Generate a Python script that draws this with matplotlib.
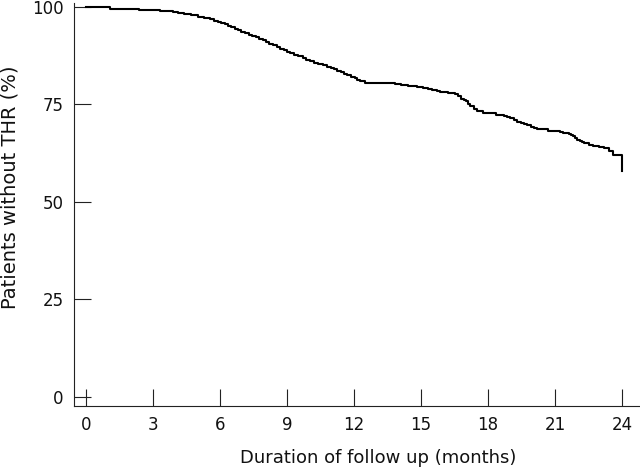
import matplotlib
matplotlib.use("Agg")
import matplotlib.pyplot as plt

# Kaplan-Meier step curve (months, % without THR)
months = [0.0, 1.07, 2.35, 3.3, 3.9, 4.1, 4.4, 4.7, 5.0, 5.3, 5.55, 5.75, 5.9,
          6.05, 6.2, 6.35, 6.5, 6.65, 6.8, 6.95, 7.1, 7.3, 7.45, 7.6, 7.75,
          7.9, 8.05, 8.2, 8.35, 8.54, 8.7, 8.85, 9.0, 9.15, 9.3, 9.5, 9.7,
          9.85, 10.03, 10.2, 10.4, 10.6, 10.78, 10.95, 11.1, 11.25, 11.4,
          11.55, 11.7, 11.85, 12.05, 12.15, 12.27, 12.5, 12.87, 13.84, 14.1,
          14.43, 14.8, 15.1, 15.3, 15.5, 15.7, 15.85, 16.2, 16.5, 16.65, 16.8,
          16.9, 17.0, 17.1, 17.2, 17.35, 17.5, 17.75, 18.0, 18.35, 18.7,
          18.85, 19.0, 19.15, 19.3, 19.45, 19.6, 19.75, 19.9, 20.05, 20.2,
          20.7, 21.2, 21.35, 21.5, 21.6, 21.7, 21.8, 21.9, 22.0, 22.1, 22.2,
          22.3, 22.5, 22.7, 22.95, 23.2, 23.4, 23.6, 24.0]
survival = [100.0, 99.5, 99.2, 98.9, 98.7, 98.4, 98.1, 97.9, 97.5, 97.2, 96.8,
            96.5, 96.2, 95.8, 95.5, 95.1, 94.8, 94.4, 94.0, 93.6, 93.3, 92.9,
            92.6, 92.2, 91.8, 91.4, 91.0, 90.6, 90.2, 89.8, 89.3, 88.9, 88.4,
            88.1, 87.7, 87.3, 86.9, 86.5, 86.1, 85.7, 85.4, 85.0, 84.7, 84.3,
            84.0, 83.6, 83.2, 82.9, 82.5, 82.1, 81.7, 81.3, 80.9, 80.6, 80.4,
            80.2, 80.0, 79.8, 79.5, 79.3, 79.0, 78.8, 78.5, 78.3, 77.9, 77.6,
            77.1, 76.5, 76.1, 75.8, 75.2, 74.6, 73.9, 73.2, 72.9, 72.7, 72.4,
            72.1, 71.7, 71.4, 71.0, 70.6, 70.3, 70.0, 69.6, 69.3, 68.9, 68.6,
            68.3, 68.0, 67.8, 67.6, 67.4, 67.2, 66.8, 66.4, 66.0, 65.6, 65.3,
            65.0, 64.7, 64.4, 64.1, 63.8, 63.1, 62.1, 57.9]

x_ticks = [0, 3, 6, 9, 12, 15, 18, 21, 24]
y_ticks = [0, 25, 50, 75, 100]

fig = plt.figure(figsize=(6.4, 4.68), dpi=100)
ax = fig.add_axes([74 / 640, 1 - 406 / 468, (640 - 74) / 640, (406 - 3) / 468])

ax.step(months, survival, where="post", color="black", linewidth=1.5)

ax.set_xlim(-0.54, 24.8)
ax.set_ylim(-2.3, 101.0)
ax.set_xticks(x_ticks)
ax.set_yticks(y_ticks)

for side in ("top", "right"):
    ax.spines[side].set_visible(False)
for side in ("left", "bottom"):
    ax.spines[side].set_linewidth(0.8)
    ax.spines[side].set_color("#222222")

ax.tick_params(axis="both", direction="in", length=12, width=0.8,
               color="#222222", labelsize=12, labelcolor="#111111")
ax.tick_params(axis="x", pad=7)
ax.tick_params(axis="y", pad=7.5)

ax.set_xlabel("Duration of follow up (months)", fontsize=13, color="#111111")
ax.xaxis.set_label_coords(0.537, -0.106)
ax.set_ylabel("Patients without THR (%)", fontsize=14, color="#111111")
ax.yaxis.set_label_coords(-0.096, 0.542)

fig.savefig("out.png", dpi=100)
